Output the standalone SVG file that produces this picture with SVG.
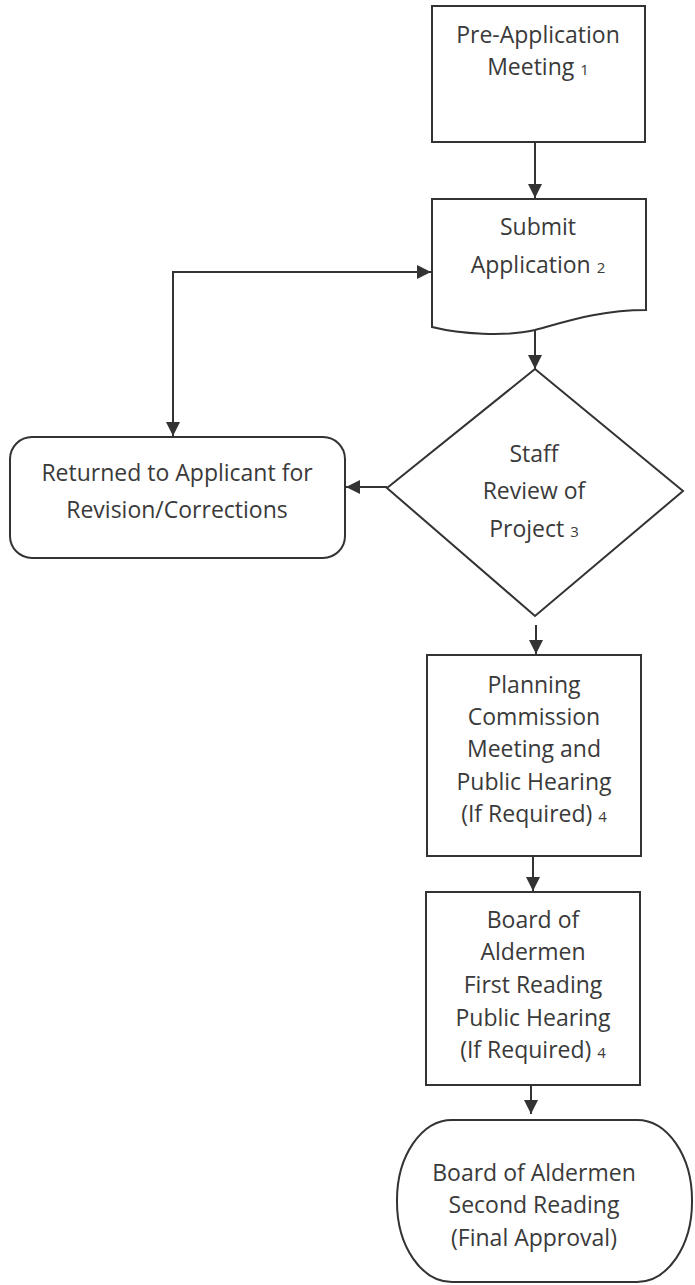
<svg xmlns="http://www.w3.org/2000/svg" width="695" height="1285" viewBox="0 0 695 1285">
<style>
.shape{fill:#fff;stroke:#333;stroke-width:2}
.line{fill:none;stroke:#333;stroke-width:2}
text{font-family:"Open Sans","Liberation Sans",sans-serif;font-size:23px;fill:#3a3a3a;text-anchor:middle}
.sub{font-size:15px}
</style>
<defs>
<marker id="arr" markerUnits="userSpaceOnUse" markerWidth="14" markerHeight="14" refX="14" refY="7" orient="auto-start-reverse">
<path d="M0,0 L14,7 L0,14 z" fill="#333"/>
</marker>
</defs>
<rect width="695" height="1285" fill="#fff"/>
<g id="connectors">
<path class="line" d="M535,142 V198" marker-end="url(#arr)"/>
<path class="line" d="M535,322 V369" marker-end="url(#arr)"/>
<path class="line" d="M431,272 H173 V436" marker-start="url(#arr)" marker-end="url(#arr)"/>
<path class="line" d="M387,487 H346" marker-end="url(#arr)"/>
<path class="line" d="M536,625 V654" marker-end="url(#arr)"/>
<path class="line" d="M533,856 V891" marker-end="url(#arr)"/>
<path class="line" d="M531,1078 V1114" marker-end="url(#arr)"/>
</g>
<g id="pre-application">
<rect class="shape" x="432" y="6" width="213" height="136"/>
<text x="538" y="43">Pre-Application</text>
<text x="538" y="75">Meeting <tspan class="sub">1</tspan></text>
</g>
<g id="submit-application">
<path class="shape" d="M432,199 H646 V310 C600,310 565,322 535,330 C505,337 460,334 432,327 Z"/>
<text x="538" y="235">Submit</text>
<text x="538" y="273">Application <tspan class="sub">2</tspan></text>
</g>
<g id="staff-review">
<path class="shape" d="M535,369 L683,491 L535,616 L387,488 Z"/>
<text x="534" y="462">Staff</text>
<text x="534" y="499">Review of</text>
<text x="534" y="537">Project <tspan class="sub">3</tspan></text>
</g>
<g id="returned">
<rect class="shape" x="10" y="437" width="335" height="121" rx="22" ry="22"/>
<text x="177" y="481">Returned to Applicant for</text>
<text x="177" y="518">Revision/Corrections</text>
</g>
<g id="planning-commission">
<rect class="shape" x="427" y="655" width="214" height="201"/>
<text x="534" y="693">Planning</text>
<text x="534" y="725">Commission</text>
<text x="534" y="757">Meeting and</text>
<text x="534" y="790">Public Hearing</text>
<text x="534" y="822">(If Required) <tspan class="sub">4</tspan></text>
</g>
<g id="board-first-reading">
<rect class="shape" x="426" y="892" width="214" height="193"/>
<text x="533" y="928">Board of</text>
<text x="533" y="960">Aldermen</text>
<text x="533" y="993">First Reading</text>
<text x="533" y="1026">Public Hearing</text>
<text x="533" y="1058">(If Required) <tspan class="sub">4</tspan></text>
</g>
<g id="board-second-reading">
<rect class="shape" x="397" y="1120" width="295" height="162" rx="55" ry="80"/>
<text x="534" y="1181">Board of Aldermen</text>
<text x="534" y="1213">Second Reading</text>
<text x="534" y="1246">(Final Approval)</text>
</g>
</svg>
